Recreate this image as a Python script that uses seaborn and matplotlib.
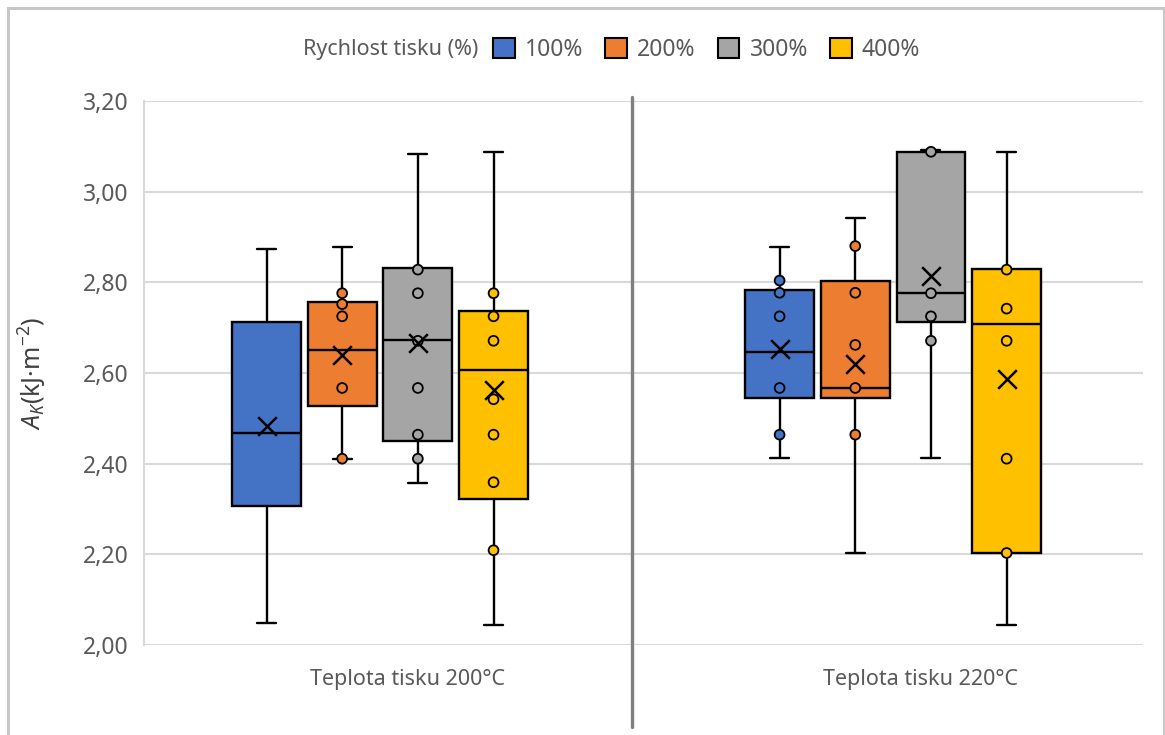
import numpy as np
import pandas as pd
import seaborn as sns
import matplotlib.pyplot as plt
from matplotlib.patches import Patch, Rectangle
from matplotlib.ticker import FuncFormatter
from matplotlib.transforms import ScaledTranslation

# categories
groups = ["Teplota tisku 200°C", "Teplota tisku 220°C"]
speeds = ["100%", "200%", "300%", "400%"]
colors = ["#4472C4", "#ED7D31", "#A5A5A5", "#FFC000"]

# box statistics (order = speeds)
low_200 = [2.048, 2.411, 2.358, 2.044]
q1_200 = [2.306, 2.527, 2.451, 2.321]
med_200 = [2.467, 2.651, 2.673, 2.607]
q3_200 = [2.712, 2.757, 2.831, 2.736]
high_200 = [2.874, 2.879, 3.083, 3.088]
mean_200 = [2.483, 2.639, 2.667, 2.563]

low_220 = [2.412, 2.203, 2.412, 2.044]
q1_220 = [2.544, 2.544, 2.713, 2.203]
med_220 = [2.647, 2.567, 2.776, 2.707]
q3_220 = [2.782, 2.802, 3.088, 2.830]
high_220 = [2.879, 2.942, 3.091, 3.088]
mean_220 = [2.653, 2.619, 2.815, 2.586]

# inner points
pts_200 = [
    [],
    [2.776, 2.752, 2.725, 2.567, 2.411],
    [2.828, 2.776, 2.671, 2.567, 2.464, 2.411],
    [2.776, 2.725, 2.671, 2.542, 2.464, 2.359, 2.209],
]
pts_220 = [
    [2.804, 2.777, 2.725, 2.567, 2.464],
    [2.880, 2.777, 2.662, 2.567, 2.464],
    [3.088, 2.776, 2.725, 2.671],
    [2.828, 2.742, 2.671, 2.411, 2.203],
]

stats = {
    groups[0]: (low_200, q1_200, med_200, q3_200, high_200, mean_200, pts_200),
    groups[1]: (low_220, q1_220, med_220, q3_220, high_220, mean_220, pts_220),
}

box_width = 0.59
slot = box_width / len(speeds)

rows, prow, mrow = [], [], []
for gi, g in enumerate(groups):
    lo, q1, md, q3, hi, mn, pts = stats[g]
    for si, s in enumerate(speeds):
        for v in (lo[si], q1[si], md[si], q3[si], hi[si]):
            rows.append({"group": g, "speed": s, "value": v})
        pos = gi + (si - 1.5) * slot
        mrow.append({"pos": pos, "value": mn[si]})
        for v in pts[si]:
            prow.append({"pos": pos, "speed": s, "value": v})

df_box = pd.DataFrame(rows)
df_pts = pd.DataFrame(prow)
df_mean = pd.DataFrame(mrow)

sns.set_style("white")
plt.rcParams['font.family'] = ['Noto Sans', 'DejaVu Sans']
plt.rcParams['mathtext.fontset'] = 'custom'
plt.rcParams['mathtext.it'] = 'Noto Sans:italic'
plt.rcParams['mathtext.rm'] = 'Noto Sans'

fig = plt.figure(figsize=(11.65, 7.35), dpi=100)
ax = fig.add_axes([144 / 1165, 1 - 645 / 735, 999 / 1165, 544 / 735])

sns.boxplot(data=df_box, x="group", y="value", hue="speed", order=groups,
            hue_order=speeds, palette=colors, saturation=1, whis=(0, 100),
            width=box_width, gap=0.09, linecolor="black", linewidth=1.7,
            fliersize=0, capwidths=0.037, legend=False, ax=ax, zorder=2)

sns.scatterplot(data=df_pts, x="pos", y="value", hue="speed", hue_order=speeds,
                palette=colors, s=50, edgecolor="black", linewidth=1.3,
                legend=False, ax=ax, zorder=4)
sns.scatterplot(data=df_mean, x="pos", y="value", marker="x", color="black",
                s=180, linewidth=1.8, legend=False, ax=ax, zorder=5)

ax.set_ylim(2.0, 3.2)
ax.set_yticks(np.arange(2.0, 3.21, 0.2))
ax.yaxis.set_major_formatter(FuncFormatter(lambda v, p: f"{v:.2f}".replace(".", ",")))
ax.set_xlim(-0.46, 1.487)
ax.set_xticks([0, 1])
ax.set_xticklabels(groups)
ax.grid(axis="y", color="#d9d9d9", linewidth=1.5, zorder=0)
ax.set_axisbelow(True)
for side in ["top", "right", "bottom"]:
    ax.spines[side].set_visible(False)
ax.spines["left"].set_color("#d9d9d9")
ax.spines["left"].set_linewidth(1.5)
ax.tick_params(axis="y", length=0, pad=11, labelsize=16.5, labelcolor="#595959")
ax.tick_params(axis="x", length=0, pad=17, labelsize=15.5, labelcolor="#595959")
for lab in ax.get_xticklabels():
    lab.set_transform(lab.get_transform() + ScaledTranslation(0.27, 0, fig.dpi_scale_trans))

ax.set_xlabel("")
ax.set_ylabel(r"$A_K$(kJ·m$^{-2}$)", fontsize=18, color="#404040")
ax.yaxis.set_label_coords(-0.095, 0.5)

# separator between temperature groups
ax.axvline(0.491, ymin=-0.151, ymax=1.008, color="#808080", linewidth=2.4,
           clip_on=False, zorder=1)

# legend with title on the left
fig.text(478 / 1165, 1 - 50 / 735, "Rychlost tisku (%)", ha="right", va="center",
         fontsize=15.5, color="#595959")
handles = [Patch(facecolor=c, edgecolor="black", linewidth=1.5) for c in colors]
fig.legend(handles, speeds, loc="center left", bbox_to_anchor=(493 / 1165, 1 - 50 / 735),
           ncol=4, frameon=False, handlelength=0.95, handleheight=0.95,
           handletextpad=0.45, columnspacing=0.95, fontsize=16.5,
           labelcolor="#595959", borderpad=0, borderaxespad=0)

# outer chart border
fig.patches.append(Rectangle((8 / 1165, -0.1), 1156 / 1165, 1 - 8 / 735 + 0.1,
                             transform=fig.transFigure, fill=False,
                             edgecolor="#c8c8c8", linewidth=2.2))

fig.savefig("out.png", dpi=100)
